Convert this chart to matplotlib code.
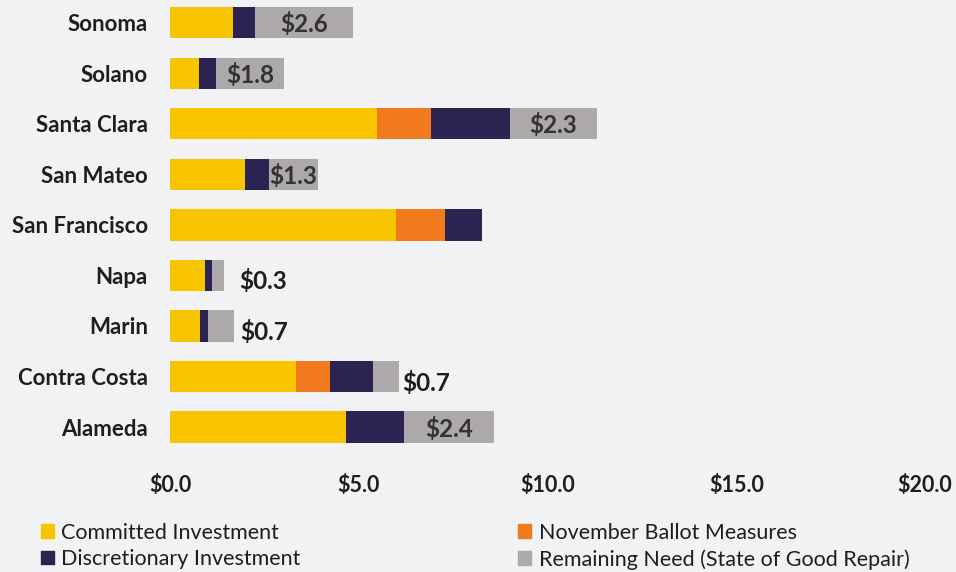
import matplotlib
matplotlib.use("Agg")
import matplotlib.pyplot as plt
from matplotlib.patches import Patch
import numpy as np

plt.rcParams['font.family'] = ['Lato', 'DejaVu Sans']

counties = ["Sonoma", "Solano", "Santa Clara", "San Mateo", "San Francisco",
            "Napa", "Marin", "Contra Costa", "Alameda"]
committed = [1.67, 0.77, 5.48, 1.98, 5.98, 0.93, 0.79, 3.33, 4.66]
november = [0.0, 0.0, 1.43, 0.0, 1.30, 0.0, 0.0, 0.90, 0.0]
discretionary = [0.58, 0.45, 2.09, 0.64, 0.98, 0.19, 0.21, 1.14, 1.53]
remaining = [2.6, 1.8, 2.3, 1.3, 0.0, 0.3, 0.7, 0.7, 2.4]
remaining_labels = ["$2.6", "$1.8", "$2.3", "$1.3", "", "$0.3", "$0.7", "$0.7", "$2.4"]
label_inside = [True, True, True, True, False, False, False, False, True]
outside_offset_px = [0, 0, 0, 0, 0, 15, 6, 3, 0]

xticks = [0, 5, 10, 15, 20]
xtick_labels = ["$0.0", "$5.0", "$10.0", "$15.0", "$20.0"]

series_names = ["Committed Investment", "Discretionary Investment",
                "November Ballot Measures", "Remaining Need (State of Good Repair)"]
c_yellow = "#F6C500"
c_orange = "#F27A1E"
c_navy = "#2B2452"
c_gray = "#ADA8AA"

fig = plt.figure(figsize=(9.56, 5.72), dpi=100)
fig.patch.set_facecolor("#f1f2f4")
ax = fig.add_axes([0.178, 0.2136, 0.9676 - 0.178, 0.7864])
ax.set_facecolor("none")

y = np.arange(len(counties))
h = 0.62
c = np.array(committed)
n = np.array(november)
d = np.array(discretionary)
r = np.array(remaining)
ax.barh(y, c, height=h, color=c_yellow)
ax.barh(y, n, left=c, height=h, color=c_orange)
ax.barh(y, d, left=c + n, height=h, color=c_navy)
ax.barh(y, r, left=c + n + d, height=h, color=c_gray)

for i in range(len(counties)):
    lbl = remaining_labels[i]
    if not lbl:
        continue
    start = c[i] + n[i] + d[i]
    if label_inside[i]:
        ax.text(start + r[i] / 2, y[i] + 0.03, lbl, ha="center", va="center",
                fontsize=17.5, fontweight="bold", color="#333333")
    else:
        ax.annotate(lbl, xy=(start + r[i], y[i]), xytext=(outside_offset_px[i] * 0.72, -6 * 0.72),
                    textcoords="offset points", ha="left", va="center",
                    fontsize=17.5, fontweight="bold", color="#1e1e1e")

ax.set_xlim(0, 20)
ax.set_ylim(8.45, -0.45)
ax.set_yticks(y)
ax.set_yticklabels(counties, fontsize=16, fontweight="bold", color="#1e1e1e")
ax.set_xticks(xticks)
ax.set_xticklabels(xtick_labels, fontsize=15.5, fontweight="bold", color="#1e1e1e")
ax.tick_params(axis="both", length=0)
ax.tick_params(axis="x", pad=18)
ax.tick_params(axis="y", pad=16)
for s in ax.spines.values():
    s.set_visible(False)

handles = [Patch(color=c_yellow), Patch(color=c_navy), Patch(color=c_orange), Patch(color=c_gray)]
fig.legend(handles, series_names, ncol=2, loc="lower left", bbox_to_anchor=(0.0225, -0.030),
           frameon=False, fontsize=15.5, handlelength=0.6, handleheight=0.6,
           handletextpad=0.35, columnspacing=10.1, labelspacing=0.3, labelcolor="#1e1e1e")

fig.savefig("out.png", dpi=100, facecolor=fig.get_facecolor())
